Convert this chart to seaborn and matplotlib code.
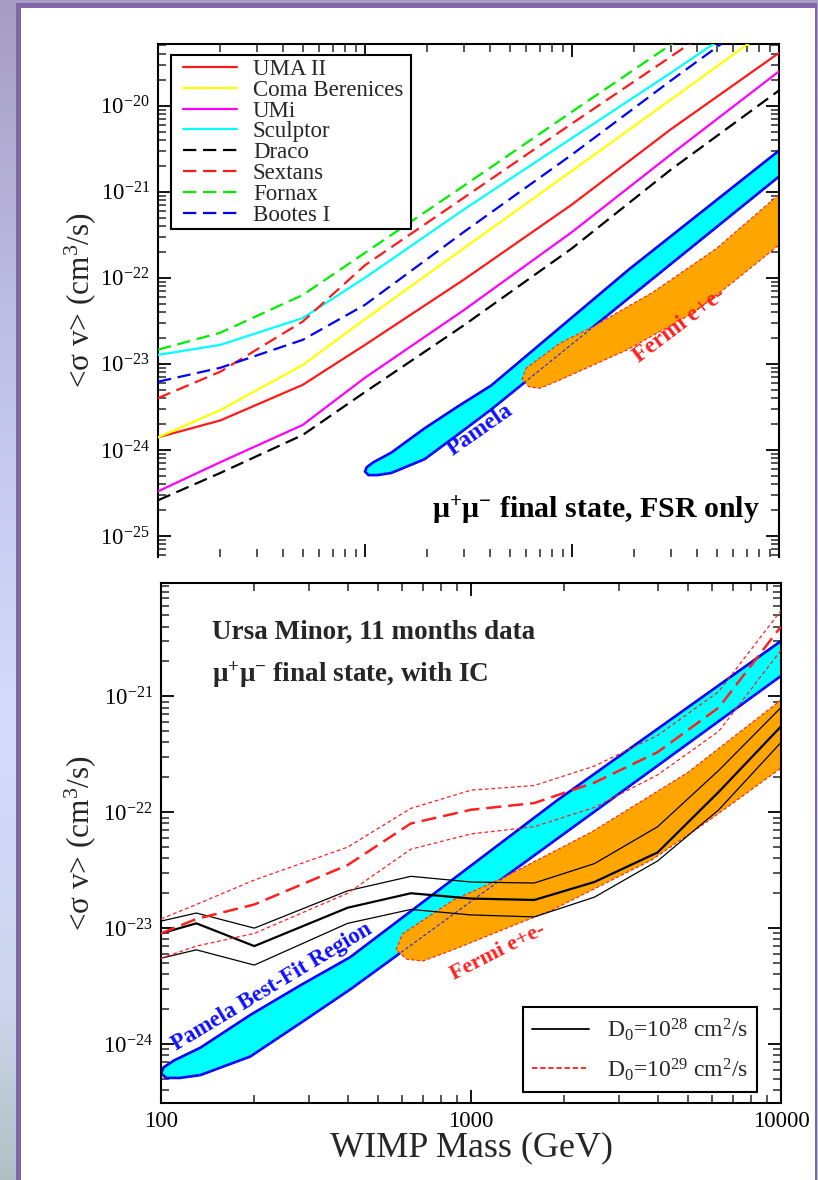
import numpy as np
import matplotlib
matplotlib.use("Agg")
import matplotlib.pyplot as plt
import seaborn as sns
from matplotlib.patches import Rectangle
from matplotlib.lines import Line2D
from matplotlib.ticker import FixedLocator, FuncFormatter, NullFormatter
from matplotlib.colors import LinearSegmentedColormap

# ---------------- upper panel: dwarf limits, mu+mu- FSR only ----------------
dwarf_mass = [10, 20, 50, 100, 300, 1000, 3000, 10000]          # GeV
uma_ii   = [1.4e-24, 2.2e-24, 5.7e-24, 1.66e-23, 9.5e-23, 7.1e-22, 5.3e-21, 4.1e-20]
coma_ber = [1.4e-24, 2.9e-24, 9.7e-24, 3.3e-23, 2.2e-22, 1.75e-21, 1.17e-20, 9.5e-20]
umi      = [3.3e-25, 7.2e-25, 1.95e-24, 6.9e-24, 4.2e-23, 3.4e-22, 2.7e-21, 2.5e-20]
sculptor = [1.27e-23, 1.66e-23, 3.4e-23, 1.0e-22, 6.2e-22, 4.2e-21, 2.4e-20, 1.7e-19]
draco    = [2.6e-25, 5.4e-25, 1.49e-24, 4.7e-24, 2.8e-23, 2.2e-22, 1.8e-21, 1.5e-20]
sextans  = [4.0e-24, 8.1e-24, 3.1e-23, 1.4e-22, 8.5e-22, 6.2e-21, 3.7e-20, 2.7e-19]
fornax   = [1.46e-23, 2.3e-23, 6.3e-23, 1.95e-22, 1.17e-21, 8.5e-21, 5.1e-20, 3.8e-19]
bootes_i = [6.2e-24, 9.0e-24, 1.9e-23, 4.85e-23, 3.4e-22, 2.7e-21, 1.95e-20, 1.6e-19]

dwarf_names = ["UMA II", "Coma Berenices", "UMi", "Sculptor",
               "Draco", "Sextans", "Fornax", "Bootes I"]

# ---------------- Pamela best-fit region ----------------
pamela_upper_mass = [100, 102, 110, 134, 194, 281, 407, 1892, 10000, 12000]
pamela_upper_sv   = [5.6e-25, 6.3e-25, 7.2e-25, 9.3e-25, 1.78e-24, 3.2e-24,
                     5.6e-24, 1.26e-22, 3.0e-21, 4.3e-21]
pamela_lower_mass = [100, 104, 115, 134, 194, 281, 407, 1000, 10000, 12000]
pamela_lower_sv   = [5.6e-25, 5.1e-25, 5.1e-25, 5.4e-25, 7.8e-25, 1.51e-24,
                     2.95e-24, 1.7e-23, 1.5e-21, 2.2e-21]

# ---------------- Fermi e+e- region ----------------
fermi_upper_mass = [573, 600, 700, 875, 1262, 2460, 5000, 10000, 12000]
fermi_upper_sv   = [6.5e-24, 8.9e-24, 1.17e-23, 1.74e-23, 2.7e-23, 6.8e-23,
                    2.2e-22, 9.3e-22, 1.26e-21]
fermi_lower_mass = [573, 620, 700, 875, 1845, 3846, 6000, 10000, 12000]
fermi_lower_sv   = [6.5e-24, 5.4e-24, 5.2e-24, 6.5e-24, 1.45e-23, 3.9e-23,
                    8.9e-23, 2.4e-22, 3.5e-22]

# ---------------- lower panel: Ursa Minor with IC ----------------
umi_ic_mass = [100, 130, 200, 400, 640, 1000, 1600, 2500, 4000, 6300, 10000]
d28_mid = [9.0e-24, 1.1e-23, 7.0e-24, 1.5e-23, 2.0e-23, 1.8e-23, 1.75e-23,
           2.5e-23, 4.5e-23, 1.5e-22, 5.5e-22]
d28_hi  = [1.15e-23, 1.35e-23, 1.0e-23, 2.1e-23, 2.8e-23, 2.5e-23, 2.45e-23,
           3.6e-23, 7.5e-23, 2.3e-22, 8.0e-22]
d28_lo  = [5.5e-24, 6.5e-24, 4.8e-24, 1.1e-23, 1.45e-23, 1.3e-23, 1.25e-23,
           1.85e-23, 3.8e-23, 1.05e-22, 4.0e-22]
d29_mid = [9.0e-24, 1.2e-23, 1.6e-23, 3.5e-23, 8.0e-23, 1.05e-22, 1.2e-22,
           1.8e-22, 3.3e-22, 8.0e-22, 4.0e-21]
d29_hi  = [1.2e-23, 1.6e-23, 2.6e-23, 5.0e-23, 1.08e-22, 1.55e-22, 1.7e-22,
           2.5e-22, 4.6e-22, 1.1e-21, 5.5e-21]
d29_lo  = [5.5e-24, 7.0e-24, 9.0e-24, 2.0e-23, 4.8e-23, 6.5e-23, 7.5e-23,
           1.1e-22, 2.1e-22, 5.0e-22, 2.5e-21]

# ---------------- style ----------------
sns.set_theme(style="ticks")
plt.rcParams["font.family"] = ["Liberation Serif", "DejaVu Serif"]
plt.rcParams["mathtext.fontset"] = "custom"
plt.rcParams["mathtext.rm"] = "Liberation Serif"
plt.rcParams["mathtext.it"] = "Liberation Serif:italic"
plt.rcParams["mathtext.bf"] = "Liberation Serif:bold"
plt.rcParams["axes.linewidth"] = 1.5

W, H = 818, 1180
fig = plt.figure(figsize=(W / 100, H / 100), dpi=100)

# slide backdrop: soft vertical gradient, white panel with purple frame
bg = fig.add_axes([0, 0, 1, 1], zorder=-10)
grad_cmap = LinearSegmentedColormap.from_list(
    "slide", [(0.0, "#a79dc4"), (0.3, "#bec2e8"), (0.6, "#d3dbfb"),
              (0.85, "#cbd7ee"), (1.0, "#afc0c4")])
bg.imshow(np.linspace(0, 1, 256)[:, None], aspect="auto", cmap=grad_cmap,
          extent=(0, 1, 0, 1))
bg.set_axis_off()
fig.add_artist(Rectangle((21 / W, 0), (815 - 21) / W, (H - 8) / H,
                         transform=fig.transFigure, facecolor="white",
                         edgecolor="none", zorder=-5))
frame = "#8066a6"
fig.add_artist(Rectangle((16 / W, 0), 5 / W, (H - 3) / H, transform=fig.transFigure,
                         facecolor=frame, edgecolor="none", zorder=-4))
fig.add_artist(Rectangle((16 / W, 1 - 8 / H), (817 - 16) / W, 5 / H,
                         transform=fig.transFigure, facecolor=frame,
                         edgecolor="none", zorder=-4))
fig.add_artist(Rectangle((815 / W, 0), 2 / W, (H - 3) / H, transform=fig.transFigure,
                         facecolor=frame, edgecolor="none", zorder=10))

TOP_BOX = (158, 44, 779, 557)     # left, top, right, bottom in pixels
BOT_BOX = (161, 583, 781, 1103)
ax_top = fig.add_axes([TOP_BOX[0] / W, 1 - TOP_BOX[3] / H,
                       (TOP_BOX[2] - TOP_BOX[0]) / W, (TOP_BOX[3] - TOP_BOX[1]) / H])
ax_bot = fig.add_axes([BOT_BOX[0] / W, 1 - BOT_BOX[3] / H,
                       (BOT_BOX[2] - BOT_BOX[0]) / W, (BOT_BOX[3] - BOT_BOX[1]) / H])


def px_to_axes(box, x, y):
    """Pixel position on the canvas -> axes fraction of the axes drawn in box."""
    l, t, r, b = box
    return (x - l) / (r - l), (b - y) / (b - t)


def decade_label(v, pos):
    return r"$\mathregular{10^{%d}}$" % int(round(np.log10(v)))


def log_ticks(lo, hi):
    """Major (decades) and minor (2..9 x decade) tick positions inside [lo, hi]."""
    e0, e1 = int(np.floor(np.log10(lo))), int(np.ceil(np.log10(hi)))
    major = [10.0 ** e for e in range(e0, e1 + 1) if lo <= 10.0 ** e <= hi]
    minor = [k * 10.0 ** e for e in range(e0, e1 + 1) for k in range(2, 10)
             if lo <= k * 10.0 ** e <= hi]
    return major, minor


def style_axis(ax, xlim, ylim):
    ax.set_xscale("log")
    ax.set_yscale("log")
    ax.set_xlim(*xlim)
    ax.set_ylim(*ylim)
    ax.set_facecolor("none")
    xmaj, xmin = log_ticks(*xlim)
    ymaj, ymin = log_ticks(*ylim)
    ax.xaxis.set_major_locator(FixedLocator(xmaj))
    ax.xaxis.set_minor_locator(FixedLocator(xmin))
    ax.yaxis.set_major_locator(FixedLocator(ymaj))
    ax.yaxis.set_minor_locator(FixedLocator(ymin))
    ax.xaxis.set_minor_formatter(NullFormatter())
    ax.yaxis.set_minor_formatter(NullFormatter())
    ax.yaxis.set_major_formatter(FuncFormatter(decade_label))
    ax.tick_params(which="major", direction="in", length=9.5, width=1.3,
                   top=True, right=True, labelsize=16.5, pad=6, colors="black")
    ax.tick_params(which="minor", direction="in", length=5.5, width=1.1,
                   top=True, right=True)
    ax.set_ylabel(r"<σ v> (cm$^{3}$/s)", fontsize=22.5, labelpad=10)
    for s in ax.spines.values():
        s.set_linewidth(1.5)
        s.set_color("black")


def curve(ax, x, y, color, lw, dash=None, z=3):
    ls = "-" if dash is None else (0, dash)
    sns.lineplot(x=x, y=y, ax=ax, color=color, linewidth=lw, linestyle=ls,
                 estimator=None, sort=False, legend=False, zorder=z)
    return ax.lines[-1]


def regions(ax):
    # Pamela band
    ax.fill(np.r_[pamela_upper_mass, pamela_lower_mass[::-1]],
            np.r_[pamela_upper_sv, pamela_lower_sv[::-1]],
            facecolor="#00ffff", edgecolor="#0000ff", linewidth=1.9, zorder=1)
    # Fermi e+e- ellipse
    ax.fill(np.r_[fermi_upper_mass, fermi_lower_mass[::-1]],
            np.r_[fermi_upper_sv, fermi_lower_sv[::-1]],
            facecolor="#ffa500", edgecolor="#ff2020", linewidth=0.8,
            linestyle=(0, (3, 2)), zorder=2)
    # Pamela lower edge seen through the Fermi region
    ax.plot(pamela_lower_mass, pamela_lower_sv, color="#2020ff", linewidth=0.8,
            linestyle=(0, (3, 2)), zorder=2.5)


style_axis(ax_top, (10, 10000), (5.7e-26, 5.2e-20))
style_axis(ax_bot, (100, 10000), (3.1e-25, 9.5e-21))

# ---------------- upper panel ----------------
regions(ax_top)
dwarf_series = [uma_ii, coma_ber, umi, sculptor, draco, sextans, fornax, bootes_i]
dwarf_colors = ["#ff1a1a", "#ffff00", "#ff00ff", "#00ffff",
                "#000000", "#ff1a1a", "#00ee00", "#0000ff"]
dwarf_dash = [None, None, None, None, (6, 3), (6, 3), (6, 3), (6, 3)]
handles = []
for vals, col, dsh in zip(dwarf_series, dwarf_colors, dwarf_dash):
    curve(ax_top, dwarf_mass, vals, col, 1.6, dsh)
    handles.append(Line2D([], [], color=col, linewidth=1.6,
                          linestyle="-" if dsh is None else (0, dsh)))

ax_top.xaxis.set_major_formatter(NullFormatter())
ax_top.spines["bottom"].set_visible(False)
ax_top.yaxis.set_label_coords((98 - 158) / 621, 0.50)

# legend frame drawn separately so the padding inside can be set freely
fx0, fy0 = px_to_axes(TOP_BOX, 171, 229)
fx1, fy1 = px_to_axes(TOP_BOX, 411, 55)
ax_top.add_patch(Rectangle((fx0, fy0), fx1 - fx0, fy1 - fy0, transform=ax_top.transAxes,
                           facecolor="white", edgecolor="black", linewidth=1.5,
                           zorder=4.5))
leg = ax_top.legend(handles, dwarf_names, loc="upper left",
                    bbox_to_anchor=px_to_axes(TOP_BOX, 183, 59),
                    borderaxespad=0, fontsize=16.5, frameon=False,
                    handlelength=2.35, handletextpad=0.7, labelspacing=-0.01,
                    borderpad=0)
leg.set_zorder(5)

ax_top.text(360, 1.7e-24, "Pamela", color="#1010ff", fontsize=17,
            fontweight="bold", rotation=35, rotation_mode="anchor",
            ha="center", va="center", zorder=4)
ax_top.text(3325, 2.8e-23, "Fermi e+e-", color="#ff2020", fontsize=17,
            fontweight="bold", rotation=37, rotation_mode="anchor",
            ha="center", va="center", zorder=4)
ax_top.text(0.9694, 0.076, r"$\mathregular{\mu^{+}\mu^{-}}$ final state, FSR only",
            transform=ax_top.transAxes, ha="right", va="baseline",
            fontsize=21.5, fontweight="bold", color="black")

# ---------------- lower panel ----------------
regions(ax_bot)
curve(ax_bot, umi_ic_mass, d28_hi, "black", 0.9)
curve(ax_bot, umi_ic_mass, d28_lo, "black", 0.9)
curve(ax_bot, umi_ic_mass, d28_mid, "black", 1.6)
curve(ax_bot, umi_ic_mass, d29_hi, "#ff2020", 0.9, (3, 2.2))
curve(ax_bot, umi_ic_mass, d29_lo, "#ff2020", 0.9, (3, 2.2))
curve(ax_bot, umi_ic_mass, d29_mid, "#ff2020", 1.8, (6, 2.8))

ax_bot.xaxis.set_major_formatter(FuncFormatter(lambda v, p: "%d" % round(v)))
ax_bot.set_xlabel("WIMP Mass (GeV)", fontsize=26, labelpad=-1)
ax_bot.yaxis.set_label_coords((98 - 161) / 620, 0.50)

d_handles = [Line2D([], [], color="black", linewidth=1.3),
             Line2D([], [], color="#ff2020", linewidth=1.3, linestyle=(0, (3, 1.5)))]
d_labels = [r"D$_{0}$=10$^{28}$ cm$^{2}$/s", r"D$_{0}$=10$^{29}$ cm$^{2}$/s"]
leg2 = ax_bot.legend(d_handles, d_labels, loc="lower right",
                     bbox_to_anchor=px_to_axes(BOT_BOX, 757, 1092),
                     borderaxespad=0, fontsize=17, frameon=True, fancybox=False,
                     edgecolor="black", framealpha=1, handlelength=2.4,
                     handletextpad=0.75, labelspacing=0.55, borderpad=0.4)
leg2.get_frame().set_linewidth(1.5)

ax_bot.text(0.082, 0.892, "Ursa Minor, 11 months data", transform=ax_bot.transAxes,
            ha="left", va="baseline", fontsize=19.5, fontweight="bold")
ax_bot.text(0.082, 0.8096, r"$\mathregular{\mu^{+}\mu^{-}}$ final state, with IC",
            transform=ax_bot.transAxes, ha="left", va="baseline",
            fontsize=19.5, fontweight="bold")
ax_bot.text(228, 3.1e-24, "Pamela Best-Fit Region", color="#1010ff", fontsize=16.5,
            fontweight="bold", rotation=31, rotation_mode="anchor",
            ha="center", va="center", zorder=4)
ax_bot.text(1222, 6.2e-24, "Fermi e+e-", color="#ff2020", fontsize=16,
            fontweight="bold", rotation=27, rotation_mode="anchor",
            ha="center", va="center", zorder=4)

fig.savefig("out.png", dpi=100)
